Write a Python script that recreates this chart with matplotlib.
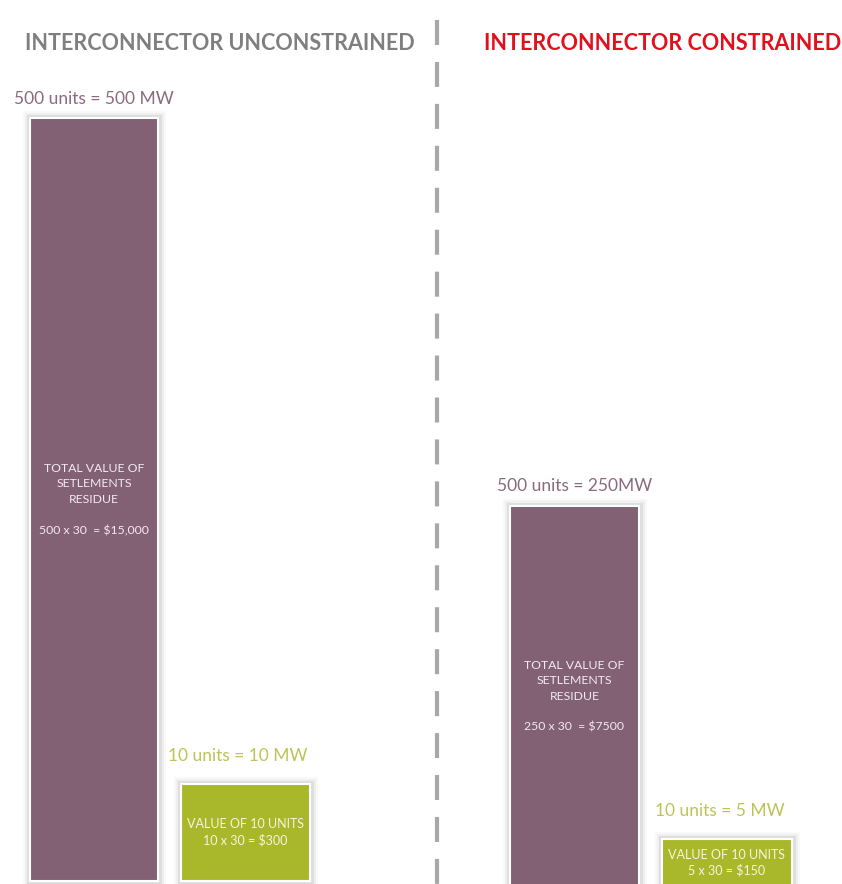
import matplotlib
matplotlib.use("Agg")
import matplotlib.pyplot as plt
import matplotlib.patheffects as pe
from matplotlib.lines import Line2D

plt.rcParams['font.family'] = ['Lato', 'DejaVu Sans']
plt.rcParams['lines.scale_dashes'] = False

# two scenarios, each with the settlement residue bar and the 10-unit bar
panels = ["INTERCONNECTOR UNCONSTRAINED", "INTERCONNECTOR CONSTRAINED"]
residue_mw = [500, 250]
unit_mw = [10, 5]
residue_labels = ["500 units = 500 MW", "500 units = 250MW"]
unit_labels = ["10 units = 10 MW", "10 units = 5 MW"]
residue_text = ["TOTAL VALUE OF\nSETLEMENTS\nRESIDUE\n\n500 x 30  = $15,000",
                "TOTAL VALUE OF\nSETLEMENTS\nRESIDUE\n\n250 x 30  = $7500"]
unit_text = ["VALUE OF 10 UNITS\n10 x 30 = $300",
             "VALUE OF 10 UNITS\n5 x 30 = $150"]

PURPLE = "#826174"
GREEN = "#a9b72b"
title_colors = ["#7f7f7f", "#e2101c"]

W, H = 842, 884
fig = plt.figure(figsize=(W / 100, H / 100), dpi=100)
fig.patch.set_facecolor("white")

# panel geometry in pixels: left edge, centre of first bar, bar spacing, baseline
geom = [(0, 94, 151.5, 3), (421, 574.5, 152.5, -3)]
px_per_mw_residue = 1.526
px_per_mw_unit = 9.7

# soft shadow around each bar
glow = [pe.Stroke(linewidth=11, foreground="black", alpha=0.025),
        pe.Stroke(linewidth=8, foreground="black", alpha=0.04),
        pe.Stroke(linewidth=5, foreground="black", alpha=0.07),
        pe.Normal()]

for i in range(2):
    left, c0, step, base = geom[i]
    ax = fig.add_axes([left / W, 0, 421 / W, 1])
    ax2 = ax.twinx()
    for a in (ax, ax2):
        a.set_xlim(-(c0 - left) / step, (421 - (c0 - left)) / step)
        a.axis("off")
    ax.set_ylim(-base / px_per_mw_residue, (H - base) / px_per_mw_residue)
    ax2.set_ylim(-base / px_per_mw_unit, (H - base) / px_per_mw_unit)

    b1 = ax.bar([0], [residue_mw[i]], width=0.845, color=PURPLE,
                edgecolor="white", linewidth=1.5, zorder=2)
    b2 = ax2.bar([1], [unit_mw[i]], width=0.85, color=GREEN,
                 edgecolor="white", linewidth=1.5, zorder=2)
    for p in list(b1) + list(b2):
        p.set_path_effects(glow)

    ax.annotate(residue_labels[i], (0, residue_mw[i]), xytext=(0, 14),
                textcoords="offset points", ha="center", va="center",
                fontsize=12.5, color="#8a6b7e")
    ax2.annotate(unit_labels[i], (1 - 0.05, unit_mw[i]), xytext=(0, 20),
                 textcoords="offset points", ha="center", va="center",
                 fontsize=12.5, color="#bcc456")

    ax.text(0, residue_mw[i] / 2, residue_text[i], ha="center", va="center",
            fontsize=8.8, color="#f3eaf0", linespacing=1.5)
    ax2.text(1, unit_mw[i] / 2, unit_text[i], ha="center", va="center",
             fontsize=9, color="#f4f6dc", linespacing=1.35)

# panel titles
fig.text(220 / W, 1 - 44 / H, panels[0], ha="center", va="center",
         fontsize=15.5, fontweight="bold", color=title_colors[0])
fig.text(663 / W, 1 - 44 / H, panels[1], ha="center", va="center",
         fontsize=15.5, fontweight="bold", color=title_colors[1])

# dashed divider between the two scenarios
fig.add_artist(Line2D([437 / W, 437 / W], [1 - 20 / H, 0], transform=fig.transFigure,
                      color="#a8a8a8", linewidth=3, linestyle=(0, (18, 12.2)),
                      solid_capstyle="butt", dash_capstyle="butt"))

fig.savefig("out.png", dpi=100, facecolor="white")
